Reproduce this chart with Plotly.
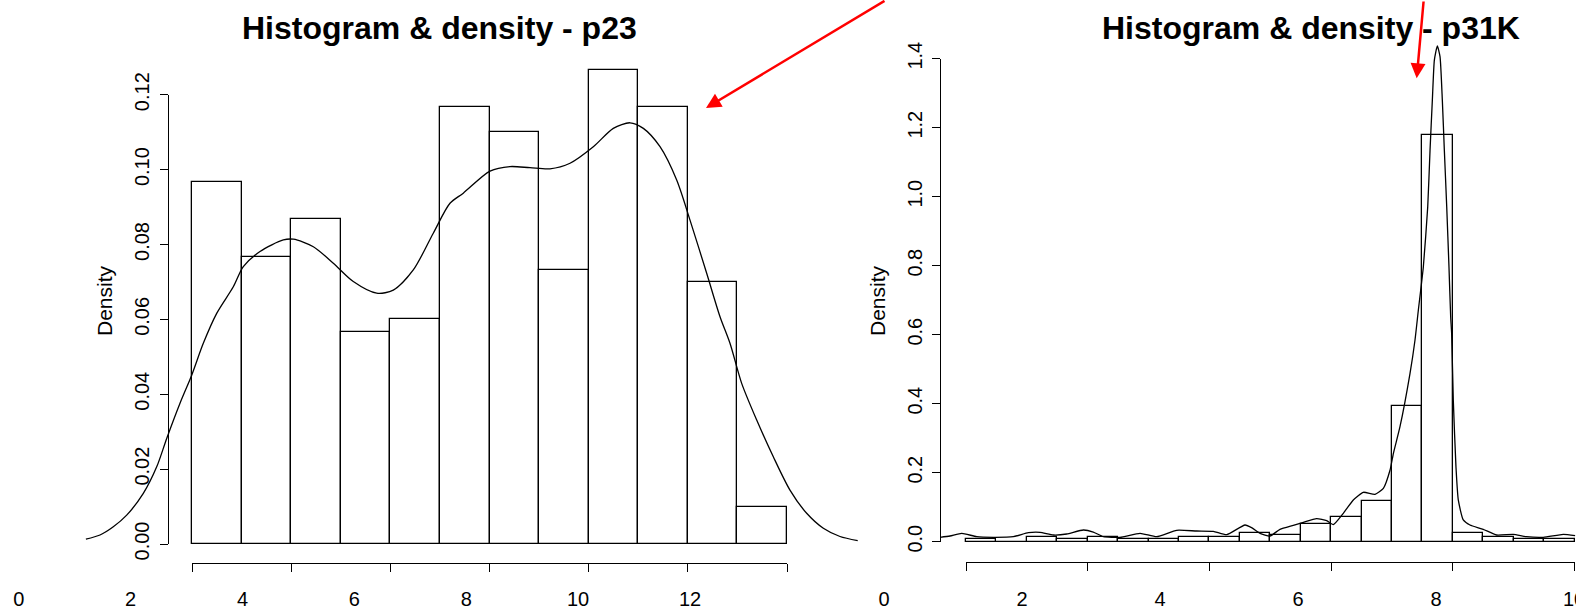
import plotly.graph_objects as go

W, H = 1576, 612

# ---------------- p23 ----------------
p23_breaks = [0, 1, 2, 3, 4, 5, 6, 7, 8, 9, 10, 11, 12]
p23_density = [0.0967, 0.0767, 0.0867, 0.0567, 0.0600, 0.1167,
               0.1100, 0.0733, 0.1267, 0.1167, 0.0700, 0.0100]
p23_kde_x = [-2.14, -1.855, -1.587, -1.317, -0.982, -0.712, -0.510, -0.242,
             -0.006, 0.228, 0.498, 0.833, 1.035, 1.371, 1.842, 2.044, 2.447,
             2.85, 3.253, 3.725, 4.06, 4.463, 4.866, 5.203, 5.471, 6.01, 6.413,
             6.817, 7.22, 7.624, 8.094, 8.497, 8.834, 9.103, 9.439, 9.775,
             10.044, 10.38, 10.649, 10.85, 11.086, 11.389, 11.724, 12.06,
             12.397, 12.733, 13.069, 13.426]
p23_kde_y = [0.0013, 0.0024, 0.0046, 0.0077, 0.0135, 0.0206, 0.0282, 0.0376,
             0.0451, 0.0536, 0.0616, 0.0687, 0.0741, 0.0781, 0.0812, 0.0814,
             0.0794, 0.0750, 0.0701, 0.0670, 0.0678, 0.0732, 0.0830, 0.0910,
             0.0937, 0.0996, 0.1008, 0.1005, 0.1002, 0.1017, 0.1061, 0.1110,
             0.1125, 0.1110, 0.1061, 0.0972, 0.0865, 0.0723, 0.0607, 0.0536,
             0.0429, 0.0331, 0.0233, 0.0144, 0.0082, 0.0042, 0.0020, 0.0009]
p23_xticks = [0, 2, 4, 6, 8, 10, 12]
p23_yticks = [0.00, 0.02, 0.04, 0.06, 0.08, 0.10, 0.12]

# ---------------- p31K ----------------
p31k_breaks = [0, 0.5, 1, 1.5, 2, 2.5, 3, 3.5, 4, 4.5, 5, 5.5, 6, 6.5, 7,
               7.5, 8, 8.5, 9, 9.5, 10]
p31k_density = [0.0064, 0.0, 0.0128, 0.0064, 0.0128, 0.0064, 0.0064, 0.0128,
                0.0128, 0.0256, 0.0192, 0.0513, 0.0705, 0.118, 0.394, 1.179,
                0.0256, 0.0122, 0.0064, 0.0064]
p31k_kde_x = [-0.427, -0.263, -0.07, 0.176, 0.449, 0.778, 1.024, 1.216, 1.435,
              1.655, 1.928, 2.092, 2.257, 2.531, 2.86, 3.134, 3.462, 3.791,
              4.064, 4.284, 4.585, 4.7, 4.832, 4.996, 5.16, 5.379, 5.544,
              5.763, 5.927, 6.036, 6.201, 6.365, 6.53, 6.722, 6.859, 6.969,
              7.024, 7.132, 7.297, 7.379, 7.434, 7.516, 7.588, 7.626, 7.664,
              7.697, 7.746, 7.79, 7.828, 7.861, 7.9, 7.937, 7.965, 7.981,
              8.008, 8.052, 8.09, 8.172, 8.282, 8.5, 8.72, 8.993, 9.21, 9.488,
              9.816, 10.01]
p31k_kde_y = [0.0127, 0.0165, 0.0243, 0.0145, 0.0127, 0.0145, 0.0261, 0.0272,
              0.0194, 0.0223, 0.0339, 0.0281, 0.0145, 0.0127, 0.0243, 0.0145,
              0.0330, 0.0310, 0.0301, 0.0203, 0.0484, 0.0400, 0.0243, 0.0165,
              0.0359, 0.0475, 0.0562, 0.0667, 0.0609, 0.0493, 0.0823, 0.1209,
              0.1432, 0.1374, 0.1548, 0.2078, 0.2562, 0.3333, 0.4881, 0.5846,
              0.6716, 0.797, 0.971, 1.135, 1.28, 1.396, 1.437, 1.406, 1.28,
              1.135, 0.971, 0.797, 0.652, 0.604, 0.411, 0.217, 0.121, 0.063,
              0.0484, 0.0359, 0.0194, 0.0214, 0.0145, 0.0127, 0.0214, 0.0174]
p31k_xticks = [0, 2, 4, 6, 8, 10]
p31k_yticks = [0.0, 0.2, 0.4, 0.6, 0.8, 1.0, 1.2, 1.4]

FONT = "Liberation Sans, Arial, Helvetica, sans-serif"


def fx(px):
    return px / W


def fy(py):
    return 1 - py / H


def span(p0, v0, p1, v1, lo, hi):
    """Axis range covering pixels lo..hi, given two pixel/value anchors."""
    k = (v1 - v0) / (p1 - p0)
    return [v0 + (lo - p0) * k, v0 + (hi - p0) * k]


def mids(edges):
    return [(a + b) / 2 for a, b in zip(edges[:-1], edges[1:])]


hidden = dict(visible=False, showgrid=False, zeroline=False, fixedrange=True,
              automargin=False)
axis_style = dict(showgrid=False, zeroline=False, showline=True, linecolor="black",
                  linewidth=1.3, ticks="outside", ticklen=8, tickwidth=1.3,
                  tickcolor="black", tickfont=dict(family=FONT, size=20, color="black"),
                  fixedrange=True, automargin=False)
label_style = dict(showgrid=False, zeroline=False, showline=False, ticks="",
                   tickfont=dict(family=FONT, size=20, color="black"), fixedrange=True,
                   automargin=False, ticklabeloverflow="allow")

fig = go.Figure()

# histogram bars + density curves on the plotting axes
fig.add_trace(go.Bar(x=mids(p23_breaks), y=p23_density, width=1,
                     marker=dict(color="white", line=dict(color="black", width=1.3)),
                     xaxis="x", yaxis="y", hoverinfo="skip"))
fig.add_trace(go.Scatter(x=p23_kde_x, y=p23_kde_y, mode="lines",
                         line=dict(color="black", width=1.3, shape="spline", smoothing=0.8),
                         xaxis="x", yaxis="y", hoverinfo="skip"))
fig.add_trace(go.Bar(x=mids(p31k_breaks), y=p31k_density, width=0.5,
                     marker=dict(color="white", line=dict(color="black", width=1.3)),
                     xaxis="x4", yaxis="y4", hoverinfo="skip"))
fig.add_trace(go.Scatter(x=p31k_kde_x, y=p31k_kde_y, mode="lines",
                         line=dict(color="black", width=1.3, shape="spline", smoothing=0.5),
                         xaxis="x4", yaxis="y4", hoverinfo="skip"))

# empty traces that bring the axis frames into existence
for xa, ya in [("x2", "y2"), ("x3", "y2"), ("x5", "y5"), ("x6", "y5")]:
    fig.add_trace(go.Scatter(x=[None], y=[None], mode="markers", xaxis=xa, yaxis=ya,
                             hoverinfo="skip", showlegend=False))

fig.update_layout(
    width=W, height=H, margin=dict(l=0, r=0, t=0, b=0, pad=0, autoexpand=False),
    paper_bgcolor="white", plot_bgcolor="rgba(0,0,0,0)", showlegend=False,
    bargap=0,
    # p23 plotting area
    xaxis=dict(domain=[0, fx(870)], range=span(192, 0, 787, 12, 0, 870), anchor="y", **hidden),
    yaxis=dict(domain=[0, 1], range=span(544, 0, 94.7, 0.12, 612, 0), anchor="x", **hidden),
    # p23 axes
    xaxis2=dict(domain=[fx(192), fx(787)], range=[0, 12], anchor="free", position=fy(563),
                tickvals=p23_xticks, showticklabels=False, **axis_style),
    yaxis2=dict(domain=[fy(544), fy(94.7)], range=[0, 0.12], anchor="free", position=fx(168),
                tickvals=p23_yticks, tickformat=".2f", tickangle=-90,
                ticklabelstandoff=3, **axis_style),
    xaxis3=dict(domain=[fx(18.7), fx(690)], range=[0, 12], anchor="free", position=fy(585),
                tickvals=p23_xticks, **label_style),
    # p31K plotting area
    xaxis4=dict(domain=[fx(940), 1], range=span(966, 0, 1574.5, 10, 940, 1576), anchor="y4", **hidden),
    yaxis4=dict(domain=[0, 1], range=span(541.7, 0, 58.7, 1.4, 612, 0), anchor="x4", **hidden),
    # p31K axes
    xaxis5=dict(domain=[fx(966), fx(1574.5)], range=[0, 10], anchor="free", position=fy(562.3),
                tickvals=p31k_xticks, showticklabels=False, **axis_style),
    yaxis5=dict(domain=[fy(541.7), fy(58.7)], range=[0, 1.4], anchor="free", position=fx(940),
                tickvals=p31k_yticks, tickformat=".1f", tickangle=-90,
                ticklabelstandoff=2, **axis_style),
    xaxis6=dict(domain=[fx(884), fx(1574)], range=[0, 10], anchor="free", position=fy(585),
                tickvals=p31k_xticks, **label_style),
)

title_font = dict(family=FONT, size=32, color="black")
label_font = dict(family=FONT, size=21, color="black")
fig.add_annotation(text="<b>Histogram & density - p23</b>", xref="paper", yref="paper",
                   x=fx(439), y=fy(28), xanchor="center", yanchor="middle",
                   showarrow=False, font=title_font)
fig.add_annotation(text="<b>Histogram & density - p31K</b>", xref="paper", yref="paper",
                   x=fx(1311), y=fy(28), xanchor="center", yanchor="middle",
                   showarrow=False, font=title_font)
fig.add_annotation(text="Density", textangle=-90, xref="paper", yref="paper",
                   x=fx(104), y=fy(301), xanchor="center", yanchor="middle",
                   showarrow=False, font=label_font)
fig.add_annotation(text="Density", textangle=-90, xref="paper", yref="paper",
                   x=fx(877), y=fy(300), xanchor="center", yanchor="middle",
                   showarrow=False, font=label_font)

# red pointer arrows
arrow = dict(xref="paper", yref="paper", text="", showarrow=True, arrowhead=2,
             arrowsize=1.2, arrowwidth=2.5, arrowcolor="#ff0000", standoff=0)
fig.add_annotation(x=fx(706), y=fy(108), ax=180, ay=-124, **arrow)
fig.add_annotation(x=fx(1416.7), y=fy(78.3), ax=7, ay=-90, **arrow)

fig.write_html("out.html")
